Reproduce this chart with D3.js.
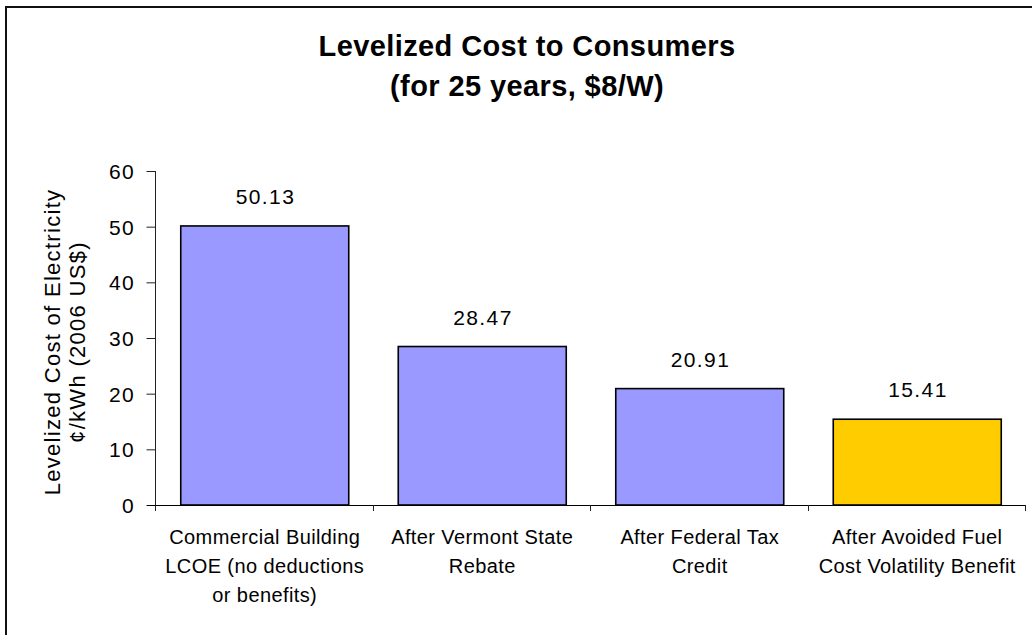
<!DOCTYPE html>
<html>
<head>
<meta charset="utf-8">
<script src="https://cdn.jsdelivr.net/npm/d3@7"></script>
<style>
  html, body { margin: 0; padding: 0; background: #fff; }
  svg { display: block; }
  text { font-family: "Liberation Sans", Arial, sans-serif; fill: #000; }
</style>
</head>
<body>
<svg id="chart" width="1032" height="635"></svg>
<script>
// ---- data ----
const categories = [
  ["Commercial Building", "LCOE (no deductions", "or benefits)"],
  ["After Vermont State", "Rebate"],
  ["After Federal Tax", "Credit"],
  ["After Avoided Fuel", "Cost Volatility Benefit"]
];
const values = [50.13, 28.47, 20.91, 15.41];
const valueLabels = ["50.13", "28.47", "20.91", "15.41"];
const barColors = ["#9999FF", "#9999FF", "#9999FF", "#FFCC00"];
const yTicks = [0, 10, 20, 30, 40, 50, 60];
const titleLines = ["Levelized Cost to Consumers", "(for 25 years, $8/W)"];
const yTitleLines = ["Levelized Cost of Electricity", "\u00A2/kWh (2006 US$)"];

// ---- layout ----
const svg = d3.select("#chart");
const plot = { left: 156, right: 1026, top: 171, bottom: 505 };

// outer frame (extends beyond the visible canvas on right/bottom)
svg.append("rect")
  .attr("x", 6).attr("y", 7)
  .attr("width", 1100).attr("height", 700)
  .attr("fill", "none").attr("stroke", "#111").attr("stroke-width", 2);

// title
svg.append("g").selectAll("text").data(titleLines).join("text")
  .attr("x", 527)
  .attr("y", (d, i) => 56 + i * 40)
  .attr("text-anchor", "middle")
  .style("font-size", "29px").style("font-weight", "bold")
  .style("letter-spacing", "0.4px")
  .text(d => d);

const x = d3.scaleBand()
  .domain(d3.range(categories.length))
  .range([plot.left, plot.right])
  .paddingInner(0.2276).paddingOuter(0.1138);

const y = d3.scaleLinear().domain([0, 60]).range([plot.bottom, plot.top]);

// y axis
const yAxis = svg.append("g")
  .attr("transform", `translate(${plot.left - 0.5},0)`)
  .call(d3.axisLeft(y).tickValues(yTicks).tickSize(9).tickSizeOuter(0).tickPadding(11));
yAxis.select(".domain").attr("stroke", "#222").attr("d", `M0,${plot.top}V${plot.bottom + 6}`);
yAxis.selectAll(".tick line").attr("stroke", "#222");
yAxis.selectAll(".tick text")
  .style("font-size", "21px").style("letter-spacing", "1.3px")
  .attr("fill", "#000").attr("x", -20.5).attr("dy", "0.36em");

// bars
svg.append("g").selectAll("rect").data(values).join("rect")
  .attr("x", (d, i) => x(i))
  .attr("y", d => y(d))
  .attr("width", x.bandwidth())
  .attr("height", d => y(0) - y(d))
  .attr("fill", (d, i) => barColors[i])
  .attr("stroke", "#000").attr("stroke-width", 1.6);

// x axis line + boundary ticks
const boundaries = d3.range(categories.length + 1).map(i => plot.left + i * x.step());
svg.append("line")
  .attr("x1", plot.left - 9).attr("x2", plot.right)
  .attr("y1", plot.bottom + 0.5).attr("y2", plot.bottom + 0.5)
  .attr("stroke", "#000").attr("stroke-width", 1.2);
svg.append("g").selectAll("line").data(boundaries.slice(1)).join("line")
  .attr("x1", d => Math.round(d) - 0.5).attr("x2", d => Math.round(d) - 0.5)
  .attr("y1", plot.bottom).attr("y2", plot.bottom + 6)
  .attr("stroke", "#222");

// value labels
svg.append("g").selectAll("text").data(values).join("text")
  .attr("x", (d, i) => x(i) + x.bandwidth() / 2 + 0.7)
  .attr("y", d => y(d) - 22)
  .attr("text-anchor", "middle")
  .style("font-size", "21px").style("letter-spacing", "1.4px")
  .text((d, i) => valueLabels[i]);

// category labels
const catG = svg.append("g");
categories.forEach((lines, i) => {
  const t = catG.append("text")
    .attr("text-anchor", "middle")
    .style("font-size", "20px").style("letter-spacing", "0.4px");
  lines.forEach((ln, j) => {
    t.append("tspan")
      .attr("x", x(i) + x.bandwidth() / 2)
      .attr("y", 544 + j * 29)
      .text(ln);
  });
});

// y axis title
const yt = svg.append("text")
  .attr("transform", "translate(60,342) rotate(-90)")
  .attr("text-anchor", "middle")
  .style("font-size", "22px").style("letter-spacing", "1.3px");
yTitleLines.forEach((ln, j) => {
  yt.append("tspan").attr("x", 0).attr("y", j * 25).text(ln);
});
</script>
</body>
</html>
